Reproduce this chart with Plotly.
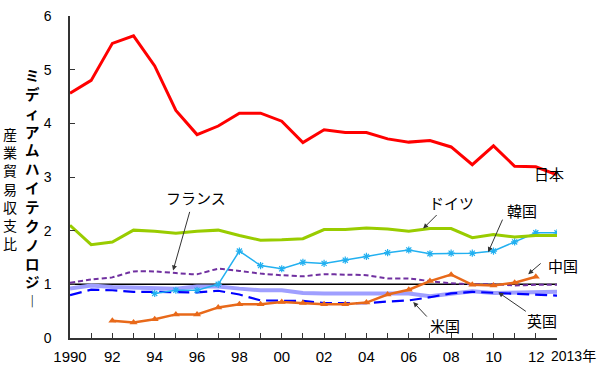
import plotly.graph_objects as go

years = list(range(1990, 2014))
japan = [4.56, 4.80, 5.49, 5.63, 5.07, 4.24, 3.79, 3.95, 4.19, 4.19, 4.04, 3.64,
         3.88, 3.83, 3.83, 3.71, 3.65, 3.68, 3.56, 3.23, 3.58, 3.20, 3.19, 3.04]
germany = [2.10, 1.74, 1.79, 2.01, 1.99, 1.95, 1.99, 2.01, 1.91, 1.82, 1.83, 1.85,
           2.02, 2.02, 2.05, 2.03, 1.99, 2.04, 2.04, 1.87, 1.93, 1.88, 1.91, 1.91]
korea_years = list(range(1994, 2014))
korea = [0.83, 0.89, 0.89, 1.00, 1.62, 1.35, 1.29, 1.41, 1.39, 1.45, 1.52, 1.59,
         1.64, 1.57, 1.58, 1.58, 1.62, 1.79, 1.96, 1.96]
france = [1.03, 1.09, 1.13, 1.24, 1.24, 1.21, 1.19, 1.29, 1.25, 1.20, 1.17, 1.15,
          1.19, 1.18, 1.17, 1.11, 1.11, 1.06, 1.02, 1.00, 1.00, 0.98, 0.99, 0.99]
uk = [0.92, 0.98, 0.95, 0.94, 0.92, 0.92, 0.96, 0.96, 0.92, 0.89, 0.89, 0.84,
      0.83, 0.83, 0.83, 0.82, 0.83, 0.78, 0.83, 0.87, 0.84, 0.85, 0.86, 0.86]
us = [0.80, 0.90, 0.89, 0.86, 0.86, 0.85, 0.85, 0.88, 0.81, 0.70, 0.70, 0.69,
      0.65, 0.65, 0.65, 0.68, 0.70, 0.76, 0.83, 0.86, 0.84, 0.83, 0.80, 0.79]
china_years = list(range(1992, 2013))
china = [0.32, 0.29, 0.35, 0.44, 0.44, 0.57, 0.63, 0.63, 0.67, 0.65, 0.63, 0.63,
         0.66, 0.81, 0.90, 1.06, 1.18, 0.99, 0.98, 1.03, 1.14]
ref_line = [1.0, 1.0]

x_tickvals = list(range(1990, 2012, 2))
x_ticktext = ["1990", "92", "94", "96", "98", "00", "02", "04", "06", "08", "10"]
y_tickvals = [0, 1, 2, 3, 4, 5, 6]

JP = "Noto Sans CJK JP"
NUM = "Liberation Sans, Arial"

W, H = 600, 371
L, R, T, B = 70, 43.3, 15.7, 33.3
pw, ph = W - L - R, H - T - B


def px_x(px):
    return (px - L) / pw


def px_y(py):
    return 1 - (py - T) / ph


fig = go.Figure()
fig.add_trace(go.Scatter(x=[1990, 2013], y=ref_line, mode="lines",
                         line=dict(color="black", width=1.5), hoverinfo="skip"))
fig.add_trace(go.Scatter(x=years, y=uk, mode="lines", line=dict(color="#9f9fff", width=4)))
fig.add_trace(go.Scatter(x=years, y=us, mode="lines",
                         line=dict(color="#0000ff", width=2.2, dash="12px,6px")))
fig.add_trace(go.Scatter(x=years, y=france, mode="lines",
                         line=dict(color="#7030a0", width=2, dash="5px,3px", shape="spline", smoothing=0.4)))
fig.add_trace(go.Scatter(x=china_years, y=china, mode="lines+markers",
                         line=dict(color="#e8691a", width=2.5),
                         marker=dict(symbol="triangle-up", size=7, color="#e8691a")))
fig.add_trace(go.Scatter(x=korea_years, y=korea, mode="lines+markers",
                         line=dict(color="#22b0f0", width=1.5),
                         marker=dict(symbol="asterisk-open", size=6, line=dict(color="#22b0f0", width=1.2))))
fig.add_trace(go.Scatter(x=years, y=germany, mode="lines", line=dict(color="#99cc00", width=3)))
fig.add_trace(go.Scatter(x=years, y=japan, mode="lines", line=dict(color="#ff0000", width=3)))

annotations = []
labels = [("フランス", 196, 197), ("ドイツ", 451, 202), ("韓国", 522, 210),
          ("中国", 563, 265), ("英国", 542, 320), ("米国", 445, 325),
          ("日本", 549, 173)]
for t, x, y in labels:
    annotations.append(dict(text=t, x=px_x(x), y=px_y(y), xref="paper", yref="paper",
                            xanchor="center", yanchor="middle", showarrow=False,
                            font=dict(family=JP, size=15, color="black")))
arrows = [(1994.87, 1.26, 17, -60), (2006.68, 2.04, 15, -15), (2009.75, 1.60, 15, -34),
          (2011.64, 1.19, 14, -12), (2010.23, 0.85, 29, 20), (2006.21, 0.67, 15, 16)]
for x, y, ax, ay in arrows:
    annotations.append(dict(text="", x=x, y=y, xref="x", yref="y", ax=ax, ay=ay,
                            showarrow=True, arrowhead=2, arrowsize=1, arrowwidth=1,
                            arrowcolor="#333333"))
annotations.append(dict(text="12", x=px_x(536), y=px_y(356), xref="paper", yref="paper",
                        xanchor="center", yanchor="middle",
                        showarrow=False, font=dict(family=NUM, size=15, color="black")))
annotations.append(dict(text="2013年", x=px_x(573), y=px_y(356), xref="paper", yref="paper",
                        xanchor="center", yanchor="middle", showarrow=False,
                        font=dict(family=NUM + ", " + JP, size=14, color="black")))
t1 = "産業貿易収支比"
annotations.append(dict(text="<br>".join(list(t1)), x=px_x(10), y=px_y(188),
                        xref="paper", yref="paper", xanchor="center", yanchor="middle",
                        showarrow=False, font=dict(family=JP, size=14, color="black")))
t2 = ["ミ", "デ", "ィ", "ア", "ム", "ハ", "イ", "テ", "ク", "ノ", "ロ", "ジ", "︱"]
annotations.append(dict(text="<b>" + "<br>".join(t2) + "</b>", x=px_x(33), y=px_y(187),
                        xref="paper", yref="paper", xanchor="center", yanchor="middle",
                        showarrow=False, font=dict(family=JP, size=14.5, color="black")))

fig.update_layout(
    width=W, height=H,
    margin=dict(l=L, r=R, t=T, b=B, pad=0, autoexpand=False),
    plot_bgcolor="white", paper_bgcolor="white",
    showlegend=False,
    annotations=annotations,
    xaxis=dict(range=[1990, 2013], showgrid=False, zeroline=False, automargin=False,
               showline=True, linecolor="#333333", linewidth=1.5,
               ticks="inside", ticklen=5, tickcolor="#333333",
               tickmode="array", tickvals=list(range(1990, 2014)),
               ticktext=[x_ticktext[x_tickvals.index(v)] if v in x_tickvals else "" for v in range(1990, 2014)],
               tickfont=dict(family=NUM, size=15, color="black"), ticklabelstandoff=4),
    yaxis=dict(range=[0, 6], showgrid=False, zeroline=False, automargin=False,
               showline=True, linecolor="#333333", linewidth=1.5,
               ticks="inside", ticklen=5, tickcolor="#333333",
               tickvals=y_tickvals,
               tickfont=dict(family=NUM, size=14, color="black"), ticklabelstandoff=14),
)
fig.write_html("out.html", config={"displayModeBar": False},
               post_script="document.body.style.margin='0px';document.body.style.overflow='hidden';")
